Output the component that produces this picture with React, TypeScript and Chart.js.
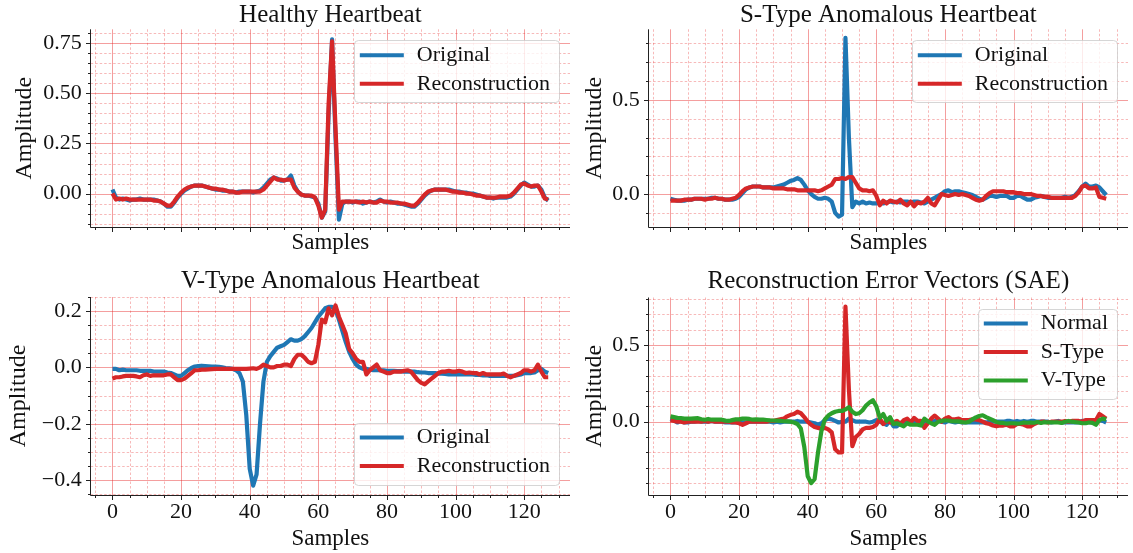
import React, { useEffect, useRef } from "react";
import { Chart, registerables } from "chart.js";
Chart.register(...registerables);

const FONT = "'Liberation Serif', 'Times New Roman', serif";
const INK = "#111111";
const BLUE = "#1f77b4";
const RED = "#d62728";
const GREEN = "#2ca02c";

// ---------------- data ----------------
const xTickValues = [0, 20, 40, 60, 80, 100, 120];

const healthyOriginal = [
  0.02, -0.02, -0.03, -0.025, -0.03, -0.035, -0.03, -0.03, -0.025, -0.03,
  -0.03, -0.03, -0.03, -0.035, -0.04, -0.05, -0.065, -0.065, -0.045, -0.02,
  0.0, 0.015, 0.025, 0.035, 0.04, 0.04, 0.04, 0.035, 0.03, 0.025,
  0.02, 0.02, 0.015, 0.015, 0.01, 0.01, 0.005, 0.01, 0.01, 0.01,
  0.01, 0.005, 0.01, 0.015, 0.03, 0.05, 0.07, 0.08, 0.075, 0.065,
  0.065, 0.07, 0.09, 0.04, 0.01, -0.005, -0.01, -0.01, -0.015, -0.02,
  -0.05, -0.12, -0.09, 0.4, 0.77, 0.28, -0.13, -0.05, -0.04, -0.04,
  -0.045, -0.04, -0.04, -0.05, -0.045, -0.04, -0.045, -0.04, -0.03, -0.04,
  -0.045, -0.04, -0.045, -0.05, -0.05, -0.055, -0.06, -0.065, -0.065, -0.05,
  -0.03, -0.01, 0.005, 0.015, 0.02, 0.02, 0.02, 0.02, 0.02, 0.015,
  0.01, 0.01, 0.005, 0.005, 0.0, 0.0, -0.005, -0.01, -0.015, -0.02,
  -0.02, -0.025, -0.02, -0.02, -0.02, -0.02, -0.015, 0.0, 0.02, 0.04,
  0.055, 0.045, 0.035, 0.035, 0.04, 0.02, -0.02, -0.035,
];
const healthyReconstruction = [
  0.0, -0.03, -0.025, -0.03, -0.025, -0.03, -0.03, -0.03, -0.03, -0.03,
  -0.03, -0.03, -0.035, -0.035, -0.04, -0.05, -0.06, -0.06, -0.04, -0.015,
  0.005, 0.02, 0.03, 0.035, 0.04, 0.04, 0.04, 0.035, 0.03, 0.025,
  0.025, 0.02, 0.02, 0.015, 0.01, 0.01, 0.005, 0.005, 0.01, 0.01,
  0.01, 0.01, 0.01, 0.01, 0.02, 0.04, 0.06, 0.08, 0.07, 0.07,
  0.065, 0.07, 0.07, 0.03, 0.01, -0.005, -0.01, -0.01, -0.01, -0.02,
  -0.06, -0.12, -0.08, 0.45, 0.76, 0.33, -0.08, -0.04, -0.04, -0.04,
  -0.04, -0.04, -0.045, -0.04, -0.045, -0.04, -0.045, -0.045, -0.035, -0.04,
  -0.04, -0.045, -0.045, -0.045, -0.05, -0.05, -0.055, -0.06, -0.06, -0.045,
  -0.025, -0.005, 0.01, 0.015, 0.02, 0.02, 0.02, 0.02, 0.015, 0.01,
  0.01, 0.005, 0.005, 0.0, 0.0, -0.005, -0.01, -0.01, -0.015, -0.02,
  -0.02, -0.02, -0.02, -0.015, -0.015, -0.015, -0.01, 0.005, 0.025, 0.045,
  0.05, 0.04, 0.035, 0.04, 0.04, 0.01, -0.025, -0.03,
];

const sTypeOriginal = [
  -0.025, -0.03, -0.035, -0.035, -0.035, -0.03, -0.03, -0.025, -0.025, -0.025,
  -0.025, -0.025, -0.02, -0.02, -0.025, -0.025, -0.03, -0.03, -0.03, -0.025,
  -0.015, 0.005, 0.025, 0.035, 0.04, 0.04, 0.04, 0.035, 0.035, 0.035,
  0.035, 0.04, 0.045, 0.05, 0.06, 0.07, 0.075, 0.085, 0.075, 0.05,
  0.02, 0.0, -0.015, -0.025, -0.025, -0.02, -0.025, -0.04, -0.1, -0.12,
  -0.11, 0.83, 0.3, -0.07, -0.04, -0.05, -0.04, -0.05, -0.045, -0.05,
  -0.05, -0.045, -0.05, -0.045, -0.04, -0.045, -0.04, -0.045, -0.04, -0.04,
  -0.045, -0.04, -0.04, -0.045, -0.05, -0.04, -0.03, -0.02, -0.01, 0.0,
  0.015, 0.02, 0.01, 0.015, 0.015, 0.01, 0.005, 0.0, -0.005, -0.015,
  -0.025, -0.03, -0.02, -0.01, -0.01, -0.015, -0.01, -0.01, -0.01, -0.02,
  -0.02, -0.01, -0.01, -0.02, -0.03, -0.03, -0.02, -0.015, -0.01, -0.015,
  -0.02, -0.02, -0.02, -0.02, -0.02, -0.015, -0.02, -0.015, -0.005, 0.015,
  0.04, 0.055, 0.04, 0.04, 0.045, 0.035, 0.015, -0.005,
];
const sTypeReconstruction = [
  -0.035, -0.035, -0.035, -0.035, -0.03, -0.03, -0.03, -0.025, -0.025, -0.025,
  -0.03, -0.025, -0.025, -0.02, -0.025, -0.025, -0.03, -0.03, -0.025, -0.02,
  -0.005, 0.015, 0.03, 0.035, 0.04, 0.04, 0.04, 0.035, 0.035, 0.035,
  0.03, 0.03, 0.03, 0.03, 0.025, 0.025, 0.025, 0.02, 0.02, 0.02,
  0.02, 0.02, 0.02, 0.015, 0.02, 0.03, 0.04, 0.05, 0.08, 0.08,
  0.085, 0.08, 0.09, 0.09, 0.06, 0.03, 0.02, 0.02, 0.015, 0.02,
  -0.01, -0.06, -0.035, -0.05, -0.035, -0.04, -0.045, -0.03, -0.05, -0.06,
  -0.04, -0.065, -0.045, -0.05, -0.04, -0.02, -0.05, -0.06, -0.03, 0.0,
  -0.005, -0.01, -0.005, 0.0, -0.005, 0.0, -0.005, -0.01, -0.02, -0.03,
  -0.035, -0.03, -0.01, 0.005, 0.015, 0.015, 0.015, 0.015, 0.01, 0.01,
  0.01, 0.005, 0.005, 0.0, 0.0, 0.0, -0.005, -0.01, -0.01, -0.015,
  -0.015, -0.02, -0.02, -0.02, -0.02, -0.02, -0.02, -0.02, -0.01, 0.01,
  0.04, 0.045, 0.03, 0.03, 0.035, -0.015, -0.02, -0.025,
];

const vTypeOriginal = [
  -0.005, -0.005, -0.01, -0.008, -0.01, -0.01, -0.01, -0.01, -0.012, -0.012,
  -0.012, -0.012, -0.015, -0.015, -0.015, -0.015, -0.018, -0.02, -0.025, -0.03,
  -0.03, -0.02, -0.01, -0.002, 0.003, 0.005, 0.006, 0.005, 0.004, 0.003,
  0.003, 0.002, 0.0, -0.002, -0.003, -0.005, -0.01, -0.02, -0.05, -0.17,
  -0.36, -0.42, -0.38, -0.2, -0.05, 0.02, 0.04, 0.055, 0.07, 0.075,
  0.08, 0.09, 0.1, 0.095, 0.095, 0.1, 0.11, 0.125, 0.14, 0.16,
  0.18, 0.195, 0.21, 0.215, 0.215, 0.205, 0.17, 0.13, 0.09, 0.055,
  0.03, 0.01, 0.0, -0.005, -0.005, -0.008, -0.01, -0.01, -0.01, -0.01,
  -0.012, -0.012, -0.012, -0.013, -0.013, -0.015, -0.015, -0.015, -0.015, -0.017,
  -0.018, -0.018, -0.02, -0.02, -0.02, -0.022, -0.022, -0.023, -0.025, -0.025,
  -0.025, -0.025, -0.025, -0.025, -0.025, -0.025, -0.027, -0.027, -0.028, -0.028,
  -0.03, -0.03, -0.03, -0.03, -0.03, -0.03, -0.03, -0.03, -0.028, -0.025,
  -0.02, -0.02, -0.02, -0.018, -0.01, -0.005, -0.015, -0.02,
];
const vTypeReconstruction = [
  -0.04, -0.035, -0.035, -0.032, -0.03, -0.03, -0.03, -0.032, -0.035, -0.028,
  -0.025, -0.03, -0.028, -0.028, -0.028, -0.028, -0.025, -0.025, -0.035, -0.045,
  -0.045, -0.04, -0.03, -0.02, -0.01, -0.01, -0.008, -0.008, -0.007, -0.006,
  -0.005, -0.005, -0.005, -0.005, -0.005, -0.005, -0.005, -0.005, -0.005, -0.005,
  -0.004, -0.003, -0.005, 0.0, 0.01, 0.005, 0.0, 0.0, 0.005, 0.005,
  0.01, 0.01, 0.005, 0.03, 0.045, 0.045, 0.035, 0.02, 0.015, 0.02,
  0.08, 0.17, 0.16, 0.21, 0.185, 0.22, 0.18, 0.15, 0.12, 0.065,
  0.05, 0.03, 0.02, 0.02, -0.025, -0.01, 0.0, 0.01, -0.01, -0.015,
  -0.02, -0.02, -0.015, -0.015, -0.015, -0.012, -0.01, -0.015, -0.03, -0.045,
  -0.055, -0.06, -0.05, -0.04, -0.03, -0.02, -0.015, -0.015, -0.012, -0.015,
  -0.015, -0.012, -0.015, -0.02, -0.018, -0.02, -0.02, -0.025, -0.02, -0.025,
  -0.025, -0.025, -0.025, -0.025, -0.022, -0.03, -0.035, -0.03, -0.025, -0.02,
  -0.01, -0.01, -0.015, -0.01, 0.01, -0.015, -0.035, -0.035,
];

const errorNormal = [
  0.02, 0.01, -0.005, 0.005, -0.005, -0.005, 0.0, 0.0, 0.005, 0.0,
  0.0, 0.0, 0.005, 0.0, 0.0, 0.0, -0.005, -0.005, -0.005, -0.005,
  -0.005, -0.005, -0.005, 0.0, 0.0, 0.0, 0.0, 0.0, 0.0, 0.0,
  -0.005, 0.0, -0.005, 0.0, 0.0, 0.0, 0.0, 0.005, 0.0, 0.0,
  0.0, -0.005, -0.01, -0.02, -0.01, 0.01, 0.02, 0.015, 0.005, -0.005,
  0.0, 0.0, 0.02, 0.01, 0.0, 0.0, 0.0, 0.0, -0.005, 0.0,
  0.01, 0.0, -0.01, -0.02, 0.01, -0.03, -0.03, -0.01, 0.0, 0.0,
  -0.005, 0.0, 0.005, -0.01, 0.0, 0.0, 0.0, 0.005, 0.005, 0.0,
  -0.005, 0.005, 0.0, -0.005, 0.0, -0.005, -0.005, -0.005, -0.005, -0.005,
  -0.005, -0.005, -0.005, 0.0, 0.0, 0.0, 0.0, 0.0, 0.005, 0.005,
  0.0, 0.005, 0.0, 0.005, 0.0, 0.005, 0.005, 0.0, 0.0, 0.0,
  0.0, -0.005, 0.0, 0.005, -0.005, -0.005, -0.005, -0.005, -0.005, -0.005,
  0.005, 0.005, 0.0, -0.005, 0.0, 0.01, 0.005, -0.005,
];
const errorSType = [
  0.01, 0.005, 0.0, 0.0, -0.005, 0.0, 0.0, 0.0, 0.0, 0.0,
  0.005, 0.0, 0.005, 0.0, 0.0, 0.0, 0.0, 0.0, -0.005, -0.005,
  -0.01, -0.02, -0.01, 0.0, 0.0, 0.0, 0.0, 0.0, 0.0, 0.005,
  0.005, 0.01, 0.015, 0.02, 0.035, 0.045, 0.05, 0.065, 0.055, 0.03,
  0.0, -0.02, -0.035, -0.04, -0.045, -0.04, -0.05, -0.07, -0.18, -0.2,
  -0.2, 0.75, 0.21, -0.16, -0.1, -0.08, -0.05, -0.04, -0.04, -0.035,
  -0.02, 0.02, -0.015, 0.005, -0.005, -0.005, 0.005, -0.015, 0.01, 0.02,
  -0.005, 0.025, 0.005, 0.005, -0.04, -0.01, 0.02, 0.04, 0.02, 0.0,
  0.02, 0.03, 0.015, 0.015, 0.02, 0.01, 0.01, 0.01, 0.015, 0.015,
  0.01, 0.0, -0.01, -0.015, -0.025, -0.03, -0.025, -0.025, -0.02, -0.03,
  -0.03, -0.015, -0.015, -0.02, -0.03, -0.03, -0.015, -0.005, 0.0, 0.0,
  -0.005, 0.0, 0.0, 0.0, 0.0, 0.005, 0.0, 0.005, 0.005, 0.005,
  0.0, 0.01, 0.01, 0.01, 0.01, 0.05, 0.035, 0.02,
];
const errorVType = [
  0.035, 0.03, 0.025, 0.024, 0.02, 0.02, 0.02, 0.022, 0.023, 0.016,
  0.013, 0.018, 0.013, 0.013, 0.013, 0.013, 0.007, 0.005, 0.01, 0.015,
  0.015, 0.02, 0.02, 0.018, 0.013, 0.015, 0.014, 0.013, 0.011, 0.009,
  0.008, 0.007, 0.005, 0.003, 0.002, 0.0, -0.005, -0.015, -0.045, -0.165,
  -0.356, -0.4, -0.375, -0.2, -0.06, 0.015, 0.04, 0.055, 0.065, 0.07,
  0.07, 0.08, 0.095, 0.065, 0.05, 0.055, 0.075, 0.105, 0.125, 0.14,
  0.1, 0.025, 0.05, 0.005, 0.03, -0.015, -0.01, -0.02, -0.03, -0.01,
  -0.02, -0.02, -0.02, -0.025, 0.02, 0.002, -0.01, -0.02, 0.0, 0.005,
  0.008, 0.008, 0.003, 0.002, 0.002, -0.003, -0.005, 0.0, 0.015, 0.028,
  0.037, 0.042, 0.03, 0.02, 0.01, -0.002, -0.007, -0.008, -0.013, -0.01,
  -0.01, -0.013, -0.01, -0.005, -0.007, -0.005, -0.007, -0.002, -0.008, -0.003,
  -0.005, -0.005, -0.005, -0.005, -0.008, 0.0, 0.005, 0.0, -0.003, -0.005,
  -0.01, -0.01, -0.005, -0.008, -0.02, 0.01, 0.02, 0.015,
];

const yTicksHealthy = [0, 0.25, 0.5, 0.75];
const yTicksSType = [0, 0.5];
const yTicksVType = [-0.4, -0.2, 0, 0.2];
const yTicksError = [0, 0.5];

// ---------------- layout ----------------
type Series = { label: string; values: number[]; color: string };
type PanelCfg = {
  left: number; top: number; width: number; height: number;
  plotLeft: number; plotRight: number; plotTop: number; plotBottom: number;
  title: string; titleY: number;
  yMin: number; yMax: number; yTicks: number[]; yMinorStep: number; yDecimals: number;
  showXLabels: boolean; yTitlePad: number; xTitlePad: number;
  legendLoc: "upper right" | "lower right";
  series: Series[];
};

const PANELS: PanelCfg[] = [
  {
    left: 0, top: 0, width: 580, height: 262,
    plotLeft: 90.7, plotRight: 570, plotTop: 29.3, plotBottom: 227,
    title: "Healthy Heartbeat", titleY: 15,
    yMin: -0.167, yMax: 0.82, yTicks: yTicksHealthy, yMinorStep: 0.05, yDecimals: 2,
    showXLabels: false, yTitlePad: 10.5, xTitlePad: 5.2, legendLoc: "upper right",
    series: [
      { label: "Original", values: healthyOriginal, color: BLUE },
      { label: "Reconstruction", values: healthyReconstruction, color: RED },
    ],
  },
  {
    left: 580, top: 0, width: 553, height: 262,
    plotLeft: 68.7, plotRight: 548, plotTop: 29.3, plotBottom: 227,
    title: "S-Type Anomalous Heartbeat", titleY: 15,
    yMin: -0.175, yMax: 0.875, yTicks: yTicksSType, yMinorStep: 0.1, yDecimals: 1,
    showXLabels: false, yTitlePad: 0, xTitlePad: 5.2, legendLoc: "upper right",
    series: [
      { label: "Original", values: sTypeOriginal, color: BLUE },
      { label: "Reconstruction", values: sTypeReconstruction, color: RED },
    ],
  },
  {
    left: 0, top: 262, width: 580, height: 291,
    plotLeft: 90.7, plotRight: 570, plotTop: 35, plotBottom: 233,
    title: "V-Type Anomalous Heartbeat", titleY: 19.7,
    yMin: -0.453, yMax: 0.25, yTicks: yTicksVType, yMinorStep: 0.05, yDecimals: 1,
    showXLabels: true, yTitlePad: 4.8, xTitlePad: 0.2, legendLoc: "lower right",
    series: [
      { label: "Original", values: vTypeOriginal, color: BLUE },
      { label: "Reconstruction", values: vTypeReconstruction, color: RED },
    ],
  },
  {
    left: 580, top: 262, width: 553, height: 291,
    plotLeft: 68.7, plotRight: 548, plotTop: 35.5, plotBottom: 233,
    title: "Reconstruction Error Vectors (SAE)", titleY: 19.7,
    yMin: -0.478, yMax: 0.81, yTicks: yTicksError, yMinorStep: 0.1, yDecimals: 1,
    showXLabels: true, yTitlePad: 0, xTitlePad: 0.2, legendLoc: "upper right",
    series: [
      { label: "Normal", values: errorNormal, color: BLUE },
      { label: "S-Type", values: errorSType, color: RED },
      { label: "V-Type", values: errorVType, color: GREEN },
    ],
  },
];

const X_MIN = -6.35;
const X_MAX = 133.35;

function minorValues(min: number, max: number, step: number, majors: number[]) {
  const out: number[] = [];
  const start = Math.ceil(min / step - 1e-9);
  const end = Math.floor(max / step + 1e-9);
  for (let k = start; k <= end; k++) {
    const v = +(k * step).toFixed(6);
    if (!majors.some((m) => Math.abs(m - v) < 1e-9)) out.push(v);
  }
  return out;
}

function fmtY(v: number, d: number) {
  const s = Math.abs(v).toFixed(d);
  return v < -1e-9 ? "\u2212" + s : s;
}

const decorPlugin = {
  id: "decor",
  beforeDatasetsDraw(chart: any) {
    const cfg: PanelCfg = chart.options.plugins.decor.cfg;
    const { ctx, chartArea: a } = chart;
    const xs = chart.scales.x;
    const ys = chart.scales.y;
    const xMinor = minorValues(X_MIN, X_MAX, 5, xTickValues);
    const yMinor = minorValues(cfg.yMin, cfg.yMax, cfg.yMinorStep, cfg.yTicks);
    ctx.save();
    // minor grid
    ctx.strokeStyle = "rgba(230, 45, 45, 0.42)";
    ctx.lineWidth = 0.8;
    ctx.setLineDash([2.5, 2]);
    ctx.beginPath();
    for (const v of xMinor) {
      const p = Math.round(xs.getPixelForValue(v)) + 0.5;
      ctx.moveTo(p, a.top); ctx.lineTo(p, a.bottom);
    }
    for (const v of yMinor) {
      const p = Math.round(ys.getPixelForValue(v)) + 0.5;
      ctx.moveTo(a.left, p); ctx.lineTo(a.right, p);
    }
    ctx.stroke();
    // major grid
    ctx.setLineDash([]);
    ctx.strokeStyle = "rgba(230, 40, 40, 0.45)";
    ctx.lineWidth = 1;
    ctx.beginPath();
    for (const v of xTickValues) {
      const p = Math.round(xs.getPixelForValue(v)) + 0.5;
      ctx.moveTo(p, a.top); ctx.lineTo(p, a.bottom);
    }
    for (const v of cfg.yTicks) {
      const p = Math.round(ys.getPixelForValue(v)) + 0.5;
      ctx.moveTo(a.left, p); ctx.lineTo(a.right, p);
    }
    ctx.stroke();
    ctx.restore();
  },
  afterDatasetsDraw(chart: any) {
    const cfg: PanelCfg = chart.options.plugins.decor.cfg;
    const { ctx, chartArea: a } = chart;
    const xs = chart.scales.x;
    const ys = chart.scales.y;
    const xMinor = minorValues(X_MIN, X_MAX, 5, xTickValues);
    const yMinor = minorValues(cfg.yMin, cfg.yMax, cfg.yMinorStep, cfg.yTicks);
    ctx.save();
    // spines
    ctx.strokeStyle = "#222";
    ctx.lineWidth = 1;
    const L = Math.round(a.left) - 0.5;
    const B = Math.round(a.bottom) + 0.5;
    ctx.beginPath();
    ctx.moveTo(L, a.top); ctx.lineTo(L, B);
    ctx.moveTo(L, B); ctx.lineTo(a.right, B);
    // ticks
    for (const v of xTickValues) {
      const p = Math.round(xs.getPixelForValue(v)) + 0.5;
      ctx.moveTo(p, B); ctx.lineTo(p, B + 4.5);
    }
    for (const v of xMinor) {
      const p = Math.round(xs.getPixelForValue(v)) + 0.5;
      ctx.moveTo(p, B); ctx.lineTo(p, B + 2.5);
    }
    for (const v of cfg.yTicks) {
      const p = Math.round(ys.getPixelForValue(v)) + 0.5;
      ctx.moveTo(L, p); ctx.lineTo(L - 4.5, p);
    }
    for (const v of yMinor) {
      const p = Math.round(ys.getPixelForValue(v)) + 0.5;
      ctx.moveTo(L, p); ctx.lineTo(L - 2.5, p);
    }
    ctx.stroke();

    // title
    ctx.fillStyle = INK;
    ctx.font = `25px ${FONT}`;
    ctx.textAlign = "center";
    ctx.textBaseline = "middle";
    ctx.fillText(cfg.title, (a.left + a.right) / 2, cfg.titleY);

    // legend
    ctx.font = `22px ${FONT}`;
    const items = cfg.series;
    const tw = Math.max(...items.map((s) => ctx.measureText(s.label).width));
    const w = 63 + tw + 9;
    const h = 15 + (items.length - 1) * 28.5 + 18;
    const right = a.right - 11;
    const left = right - w;
    const top = cfg.legendLoc === "lower right" ? a.bottom - 11 - h : a.top + 11;
    ctx.beginPath();
    (ctx as any).roundRect(Math.round(left) + 0.5, Math.round(top) + 0.5, Math.round(w), Math.round(h), 4);
    ctx.fillStyle = "rgba(255,255,255,0.8)";
    ctx.fill();
    ctx.strokeStyle = "rgba(204,204,204,0.8)";
    ctx.lineWidth = 1;
    ctx.stroke();
    items.forEach((s, k) => {
      const cy = top + 15 + k * 28.5;
      ctx.strokeStyle = s.color;
      ctx.lineWidth = 4;
      ctx.lineCap = "butt";
      ctx.beginPath();
      ctx.moveTo(left + 6, cy);
      ctx.lineTo(left + 50, cy);
      ctx.stroke();
      ctx.fillStyle = INK;
      ctx.textAlign = "left";
      ctx.textBaseline = "middle";
      ctx.fillText(s.label, left + 63, cy);
    });
    ctx.restore();
  },
};

function Panel({ cfg }: { cfg: PanelCfg }) {
  const ref = useRef<HTMLCanvasElement | null>(null);
  useEffect(() => {
    const canvas = ref.current;
    if (!canvas) return;
    const n = cfg.series.length;
    const datasets = cfg.series.map((s, idx) => ({
      label: s.label,
      data: s.values.map((v, i) => ({ x: i, y: v })),
      borderColor: s.color,
      backgroundColor: s.color,
      borderWidth: 4.2,
      pointRadius: 0,
      tension: 0,
      fill: false,
      borderJoinStyle: "round" as const,
      borderCapStyle: "butt" as const,
      order: n - idx,
    }));
    const chart = new Chart(canvas, {
      type: "line",
      data: { datasets },
      plugins: [decorPlugin],
      options: {
        animation: false,
        responsive: false,
        maintainAspectRatio: false,
        devicePixelRatio: 1,
        layout: {
          padding: { left: 0, top: cfg.plotTop, right: cfg.width - cfg.plotRight, bottom: 0 },
        },
        plugins: {
          legend: { display: false },
          title: { display: false },
          tooltip: { enabled: false },
          decor: { cfg },
        } as any,
        scales: {
          x: {
            type: "linear",
            min: X_MIN,
            max: X_MAX,
            grid: { display: false, drawTicks: false },
            border: { display: false },
            afterBuildTicks: (s: any) => { s.ticks = xTickValues.map((v) => ({ value: v })); },
            afterFit: (s: any) => { s.height = cfg.height - cfg.plotBottom; },
            ticks: {
              display: cfg.showXLabels,
              autoSkip: false,
              maxRotation: 0,
              padding: 4.5,
              color: INK,
              font: { family: FONT, size: 22 },
              callback: (v: any) => String(v),
            },
            title: {
              display: true,
              text: "Samples",
              color: INK,
              font: { family: FONT, size: 23 },
              padding: { top: 0, bottom: cfg.xTitlePad },
            },
          },
          y: {
            type: "linear",
            min: cfg.yMin,
            max: cfg.yMax,
            grid: { display: false, drawTicks: false },
            border: { display: false },
            afterBuildTicks: (s: any) => { s.ticks = cfg.yTicks.map((v) => ({ value: v })); },
            afterFit: (s: any) => { s.width = cfg.plotLeft; },
            ticks: {
              autoSkip: false,
              padding: 9,
              color: INK,
              font: { family: FONT, size: 22 },
              callback: (v: any) => fmtY(Number(v), cfg.yDecimals),
            },
            title: {
              display: true,
              text: "Amplitude",
              color: INK,
              font: { family: FONT, size: 24 },
              padding: { top: cfg.yTitlePad, bottom: 0 },
            },
          },
        },
      } as any,
    });
    return () => chart.destroy();
  }, [cfg]);
  return (
    <canvas
      ref={ref}
      width={cfg.width}
      height={cfg.height}
      style={{
        position: "absolute",
        left: cfg.left,
        top: cfg.top,
        width: cfg.width,
        height: cfg.height,
      }}
    />
  );
}

export default function App() {
  return (
    <div
      style={{
        position: "absolute",
        left: 0,
        top: 0,
        width: 1133,
        height: 553,
        background: "#ffffff",
        overflow: "hidden",
      }}
    >
      {PANELS.map((p, i) => (
        <Panel key={i} cfg={p} />
      ))}
    </div>
  );
}
